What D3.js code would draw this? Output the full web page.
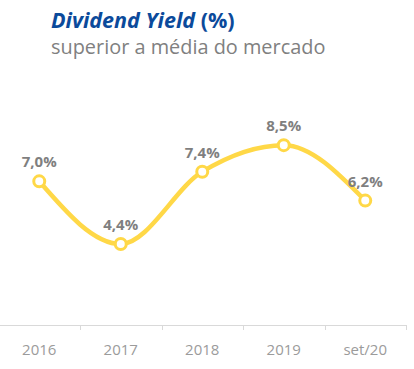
<!DOCTYPE html>
<html><head><meta charset="utf-8">
<script src="https://cdn.jsdelivr.net/npm/d3@7"></script>
<style>body{margin:0;background:#fff}svg{display:block}</style>
</head><body>
<svg id="c" width="414" height="369"></svg>
<script>
const categories = ["2016","2017","2018","2019","set/20"];
const values = [7.0, 4.4, 7.4, 8.5, 6.2];
const valueLabels = ["7,0%","4,4%","7,4%","8,5%","6,2%"];
const titleMain = "Dividend Yield";
const titleUnit = " (%)";
const subtitle = "superior a média do mercado";

const svg = d3.select("#c");
const font = "'Open Sans', 'Noto Sans', sans-serif";

const x = d3.scaleBand().domain(categories).range([-1.5, 406]);
const y = d3.scaleLinear().domain([1, 10]).range([326, 109]);

// title
const t = svg.append("text").attr("x", 51).attr("y", 28)
  .attr("font-family", font).attr("font-size", 21.5).attr("font-weight", 700).attr("fill", "#0b4a9b");
t.append("tspan").attr("font-style", "italic").text(titleMain);
t.append("tspan").text(titleUnit);
svg.append("text").attr("x", 51).attr("y", 53.5)
  .attr("font-family", font).attr("font-size", 19.9).attr("fill", "#808080").text(subtitle);

// axis
const axisY = 325;
svg.append("line").attr("x1", 0).attr("x2", 406).attr("y1", axisY + 0.5).attr("y2", axisY + 0.5)
  .attr("stroke", "#d9d9d9").attr("stroke-width", 1);
svg.selectAll(".tick").data(categories).join("line")
  .attr("x1", d => Math.round(x(d) + x.bandwidth()) + 0.5)
  .attr("x2", d => Math.round(x(d) + x.bandwidth()) + 0.5)
  .attr("y1", axisY).attr("y2", axisY + 5)
  .attr("stroke", "#d9d9d9");
svg.selectAll(".tl").data(categories).join("text")
  .attr("x", d => x(d) + x.bandwidth() / 2).attr("y", 355)
  .attr("text-anchor", "middle").attr("font-family", font).attr("font-size", 15)
  .attr("fill", "#9b9b9b").text(d => d);

// line
const cx = (d, i) => x(categories[i]) + x.bandwidth() / 2;
const line = d3.line().x(cx).y(d => y(d)).curve(d3.curveMonotoneX);
svg.append("path").datum(values).attr("d", line)
  .attr("fill", "none").attr("stroke", "#ffd847").attr("stroke-width", 4.5);
svg.selectAll(".pt").data(values).join("circle")
  .attr("cx", cx).attr("cy", d => y(d)).attr("r", 5.5)
  .attr("fill", "#fff").attr("stroke", "#ffd847").attr("stroke-width", 3);
svg.selectAll(".vl").data(values).join("text")
  .attr("x", cx).attr("y", d => y(d) - 14)
  .attr("text-anchor", "middle").attr("font-family", font).attr("font-size", 15)
  .attr("font-weight", 700).attr("fill", "#7f7f7f").text((d, i) => valueLabels[i]);
</script>
</body></html>
